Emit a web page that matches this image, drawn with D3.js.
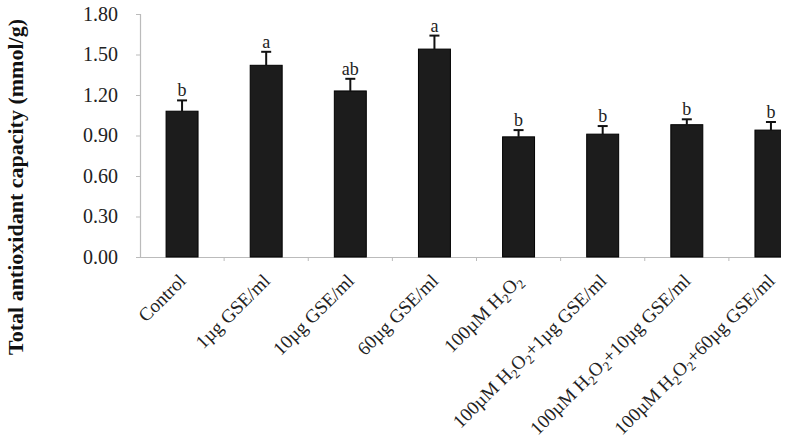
<!DOCTYPE html>
<html><head><meta charset="utf-8">
<script src="https://cdn.jsdelivr.net/npm/d3@7"></script>
<style>html,body{margin:0;padding:0;background:#fff;}</style>
</head><body>
<svg id="c" width="786" height="443"></svg>
<script>
// Data
const categories = ["Control","1µg GSE/ml","10µg GSE/ml","60µg GSE/ml","100µM H2O2","100µM H2O2+1µg GSE/ml","100µM H2O2+10µg GSE/ml","100µM H2O2+60µg GSE/ml"];
const values = [1.08, 1.42, 1.23, 1.54, 0.89, 0.91, 0.98, 0.94];
const errors = [0.08, 0.10, 0.09, 0.10, 0.05, 0.06, 0.04, 0.06];
const letters = ["b","a","ab","a","b","b","b","b"];
const yTicks = [0, 0.3, 0.6, 0.9, 1.2, 1.5, 1.8];
const yTitle = "Total antioxidant capacity (mmol/g)";

const svg = d3.select("#c");
const m = {left: 140, top: 14, bottom: 257};
const x = d3.scaleBand().domain(categories).range([140, 813]).paddingInner(0.62).paddingOuter(0.31);
const y = d3.scaleLinear().domain([0, 1.8]).range([m.bottom, m.top]);
const serif = "'Liberation Serif', 'Times New Roman', serif";

svg.append("defs").append("clipPath").attr("id","clip")
  .append("rect").attr("x",0).attr("y",0).attr("width",781).attr("height",443);
const g = svg.append("g").attr("clip-path","url(#clip)");

// y axis
const ya = g.append("g").attr("transform","translate(140,0)")
  .call(d3.axisLeft(y).tickValues(yTicks).tickSize(4).tickPadding(18).tickFormat(d3.format(".2f")));
ya.select(".domain").attr("stroke","#bbb").attr("stroke-width",1.2);
ya.selectAll(".tick line").attr("stroke","#bbb");
ya.selectAll(".tick text").attr("font-family",serif).attr("font-size",20).attr("fill","#222");

// x axis
const xa = g.append("g").attr("transform",`translate(0,${m.bottom})`)
  .call(d3.axisBottom(x).tickSize(0).tickFormat(""));
xa.select(".domain").attr("stroke","#bbb").attr("stroke-width",1.2);
const step = x.step();
g.selectAll(".xt").data(categories).join("line").attr("class","xt")
  .attr("x1", d => x(d) + x.bandwidth()/2 + step/2).attr("x2", d => x(d) + x.bandwidth()/2 + step/2)
  .attr("y1", m.bottom).attr("y2", m.bottom + 4).attr("stroke","#bbb");

// bars
g.selectAll(".bar").data(categories).join("rect").attr("class","bar")
  .attr("x", d => x(d)).attr("width", x.bandwidth())
  .attr("y", (d,i) => y(values[i])).attr("height", (d,i) => y(0) - y(values[i]))
  .attr("fill","#1c1c1c").attr("stroke","#000").attr("stroke-width",1);

// error bars
const eb = g.selectAll(".eb").data(categories).join("g").attr("class","eb");
eb.append("line").attr("x1", d => x(d)+x.bandwidth()/2).attr("x2", d => x(d)+x.bandwidth()/2)
  .attr("y1",(d,i)=>y(values[i])).attr("y2",(d,i)=>y(values[i]+errors[i])).attr("stroke","#111").attr("stroke-width",2);
eb.append("line").attr("x1", d => x(d)+x.bandwidth()/2-5).attr("x2", d => x(d)+x.bandwidth()/2+5)
  .attr("y1",(d,i)=>y(values[i]+errors[i])).attr("y2",(d,i)=>y(values[i]+errors[i])).attr("stroke","#111").attr("stroke-width",2);

// letters
g.selectAll(".lt").data(categories).join("text").attr("class","lt")
  .attr("x", d => x(d)+x.bandwidth()/2).attr("y",(d,i)=>y(values[i]+errors[i]) - 4)
  .attr("text-anchor","middle").attr("font-family",serif).attr("font-size",18).attr("fill","#222")
  .text((d,i)=>letters[i]);

// category labels with subscripts
g.selectAll(".cl").data(categories).join("text").attr("class","cl")
  .attr("transform", d => `translate(${x(d)+x.bandwidth()/2+5},${m.bottom+25}) rotate(-45)`)
  .attr("text-anchor","end").attr("font-family",serif).attr("font-size",19).attr("fill","#222")
  .each(function(d){
    const t = d3.select(this);
    const parts = d.split(/(H2O2)/);
    parts.forEach(p => {
      if (p === "H2O2") {
        t.append("tspan").text("H");
        t.append("tspan").attr("font-size",13).attr("dy",4).text("2");
        t.append("tspan").attr("dy",-4).text("O");
        t.append("tspan").attr("font-size",13).attr("dy",4).text("2");
        t.append("tspan").attr("dy",-4).text("\u200b");
      } else if (p.length) {
        t.append("tspan").text(p);
      }
    });
  });

// y title
svg.append("text").attr("transform","translate(23,187) rotate(-90)")
  .attr("text-anchor","middle").attr("font-family",serif).attr("font-weight","bold")
  .attr("font-size",22).attr("fill","#111").text(yTitle);
</script>
</body></html>
